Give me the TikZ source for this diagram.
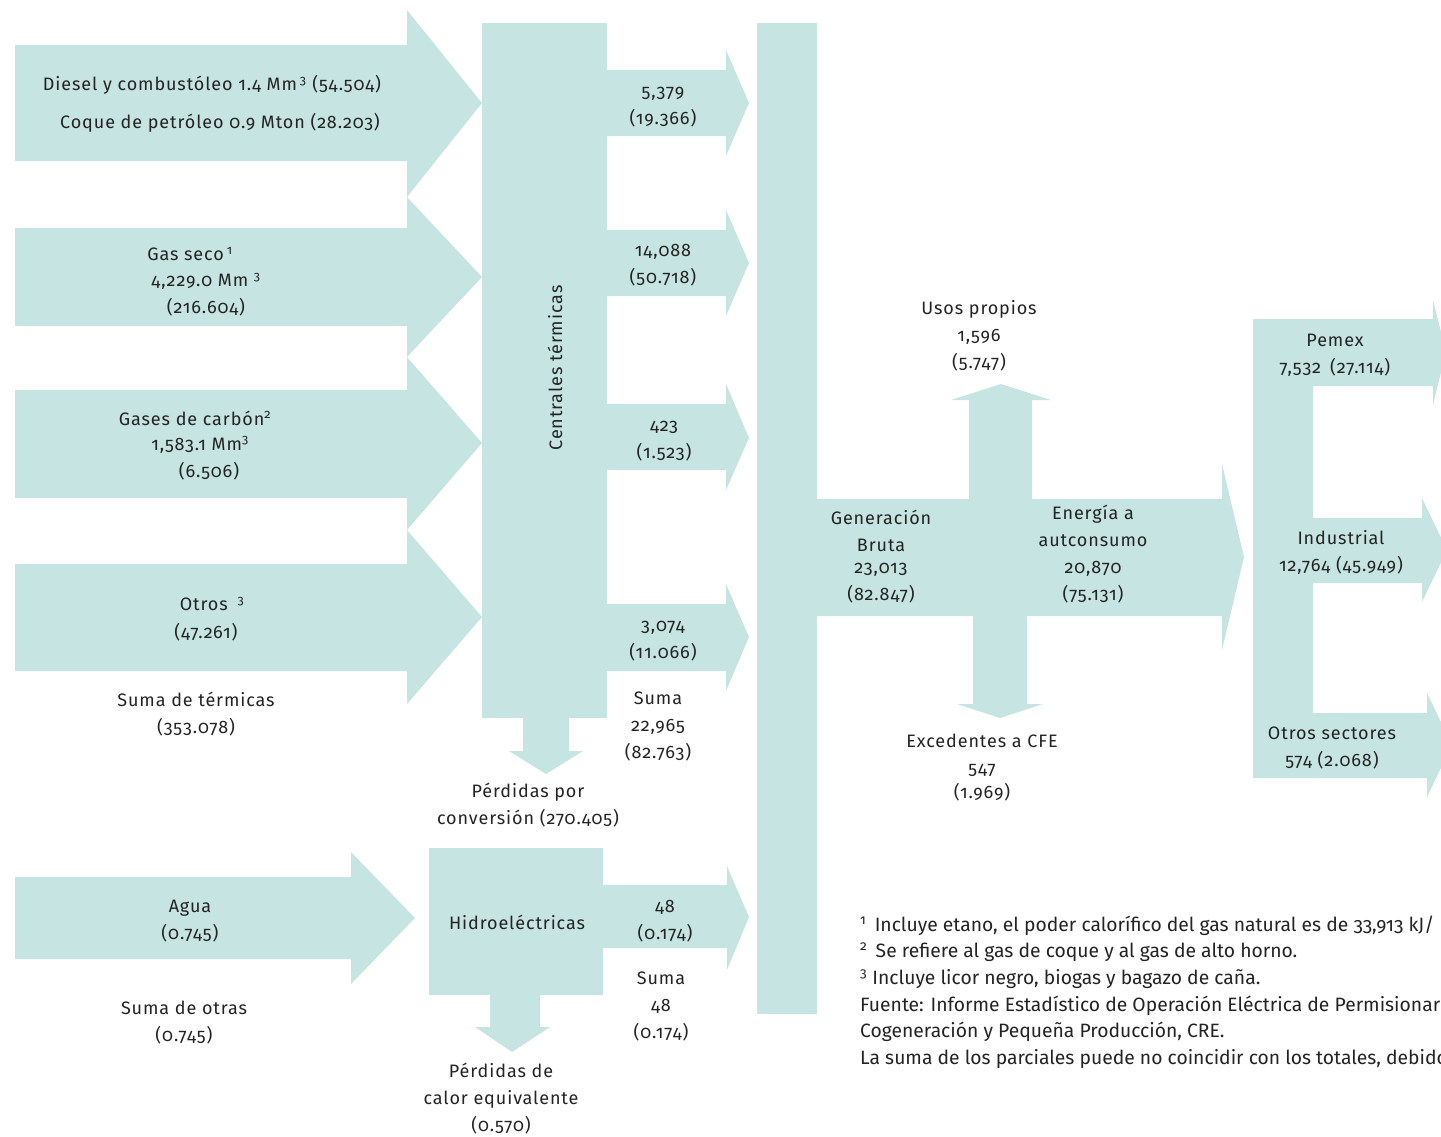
\documentclass[tikz,border=0pt]{standalone}
\usepackage{fontspec}
\setmainfont{Fira Sans}[Numbers=OldStyle]
\newfontfamily\espaciada{Fira Sans}[Numbers=OldStyle, LetterSpace=5]
\definecolor{flujo}{RGB}{198,228,225}
\definecolor{texto}{RGB}{35,35,35}
\tikzset{
  flujo/.style={fill=flujo, draw=none},
  etiqueta/.style={font=\espaciada\fontsize{18}{27}\selectfont, text=texto, align=center, inner sep=0pt},
  nota/.style={font=\fontsize{19.3}{26.5}\selectfont, text=texto, anchor=west, inner sep=0pt}
}

\begin{document}
\begin{tikzpicture}[x=1pt,y=-1pt]
  \useasboundingbox (0,0) rectangle (1441,1136);
  \clip (0,0) rectangle (1441,1136);

  % combustibles hacia centrales termicas
  \fill[flujo] (15,45) -- (407,45) -- (407,10) -- (482,103) -- (407,197) -- (407,161) -- (15,161) -- cycle;
  \fill[flujo] (15,228) -- (407,228) -- (407,197) -- (482,277) -- (407,357) -- (407,326) -- (15,326) -- cycle;
  \fill[flujo] (15,390) -- (407,390) -- (407,357) -- (482,443) -- (407,530) -- (407,498) -- (15,498) -- cycle;
  \fill[flujo] (15,564) -- (407,564) -- (407,530) -- (482,617) -- (407,704) -- (407,671) -- (15,671) -- cycle;

  % centrales termicas y perdidas
  \fill[flujo] (482,23) rectangle (607,718);
  \fill[flujo] (523,718) -- (569,718) -- (569,751) -- (583,751) -- (546,774) -- (509,751) -- (523,751) -- cycle;

  % salidas de centrales termicas
  \foreach \ya/\yb/\yc/\yd/\yt in {50/70/136/156/103, 210/230/296/316/263, 384/404/470/490/438, 584/604/671/691/637}
    \fill[flujo] (607,\yb) -- (726,\yb) -- (726,\ya) -- (749,\yt) -- (726,\yd) -- (726,\yc) -- (607,\yc) -- cycle;

  % barra de generacion
  \fill[flujo] (757,23) rectangle (817,1014);

  % generacion bruta, usos propios, excedentes
  \fill[flujo] (817,499) -- (1222,499) -- (1222,464) -- (1244,557) -- (1222,650) -- (1222,616) -- (817,616) -- cycle;
  \fill[flujo] (969,499) -- (969,400) -- (951,400) -- (1001,384) -- (1051,400) -- (1032,400) -- (1032,499) -- cycle;
  \fill[flujo] (973,616) -- (973,704) -- (957,704) -- (1000,718) -- (1043,704) -- (1027,704) -- (1027,616) -- cycle;

  % sectores de consumo
  \fill[flujo] (1253,319) rectangle (1313,778);
  \fill[flujo] (1313,319) -- (1433,319) -- (1433,300) -- (1446,352) -- (1433,405) -- (1433,386) -- (1313,386) -- cycle;
  \fill[flujo] (1313,518) -- (1422,518) -- (1422,498) -- (1447,550) -- (1422,602) -- (1422,583) -- (1313,583) -- cycle;
  \fill[flujo] (1313,713) -- (1427,713) -- (1427,693) -- (1452,745) -- (1427,797) -- (1427,778) -- (1313,778) -- cycle;

  % hidroelectricas
  \fill[flujo] (15,877) -- (351,877) -- (351,852) -- (415,918) -- (351,984) -- (351,959) -- (15,959) -- cycle;
  \fill[flujo] (429,848) rectangle (603,995);
  \fill[flujo] (603,885) -- (727,885) -- (727,866) -- (749,917) -- (727,970) -- (727,948) -- (603,948) -- cycle;
  \fill[flujo] (490,995) -- (540,995) -- (540,1027) -- (550,1027) -- (512,1052) -- (475,1027) -- (490,1027) -- cycle;

  % textos de entrada
  \node[etiqueta] (diesel) at (212,85) {Diesel y combustóleo 1.4 Mm\,\textsuperscript{3} (54.504)};
  \node[etiqueta] (coque) at (220,123) {Coque de petróleo 0.9 Mton (28.203)};
  \node[etiqueta] (gasseco) at (190,254) {Gas seco\,\textsuperscript{1}};
  \node[etiqueta] (gassecoval) at (206,295) {4,229.0 Mm \textsuperscript{3}\\(216.604)};
  \node[etiqueta] (carbon) at (195,418) {Gases de carbón\textsuperscript{2}};
  \node[etiqueta] (carbonval) at (200,445) {1,583.1 Mm\textsuperscript{3}};
  \node[etiqueta] (carbonpj) at (209,471) {(6.506)};
  \node[etiqueta] (otros) at (212,604) {Otros \textsuperscript{\,\,3}};
  \node[etiqueta] (otrosval) at (206,632) {(47.261)};
  \node[etiqueta] (sumaterm) at (196,714) {Suma de térmicas\\(353.078)};

  \node[etiqueta, rotate=90] (centrales) at (555,368) {Centrales térmicas};
  \node[etiqueta] (sal1) at (663,107) {5,379\\(19.366)};
  \node[etiqueta] (sal2) at (663,265) {14,088\\(50.718)};
  \node[etiqueta] (sal3) at (664,441) {423\\(1.523)};
  \node[etiqueta] (sal4) at (663,641) {3,074\\(11.066)};
  \node[etiqueta] (sumacent) at (658,726) {Suma\\22,965\\(82.763)};
  \node[etiqueta] (perdconv) at (528,805) {Pérdidas por\\conversión (270.405)};

  % generacion y destino
  \node[etiqueta] (usos) at (979,336) {Usos propios\\1,596\\(5.747)};
  \node[etiqueta] (genbruta) at (881,557) {Generación\\Bruta\\[-5pt]23,013\\(82.847)};
  \node[etiqueta] (autocons) at (1093,554) {Energía a\\autconsumo\\20,870\\(75.131)};
  \node[etiqueta] (excedentes) at (982,768) {Excedentes a CFE\\547\\[-3pt](1.969)};
  \node[etiqueta] (pemex) at (1335,355) {Pemex\\7,532\,\,\,(27.114)};
  \node[etiqueta] (industrial) at (1341,552) {Industrial\\12,764 (45.949)};
  \node[etiqueta] (otrossect) at (1332,748) {Otros sectores\\574 (2.068)};

  % otras fuentes
  \node[etiqueta] (agua) at (190,921) {Agua\\(0.745)};
  \node[etiqueta] (sumaotras) at (184,1023) {Suma de otras\\(0.745)};
  \node[etiqueta] (hidro) at (517,922) {Hidroeléctricas};
  \node[etiqueta] (salhidro) at (665,921) {48\\(0.174)};
  \node[etiqueta] (sumahidro) at (661,1006) {Suma\\48\\(0.174)};
  \node[etiqueta] (perdcalor) at (501,1099) {Pérdidas de\\calor equivalente\\(0.570)};

  % notas
  \node[nota] (nota1) at (860,926) {\textsuperscript{1}\, Incluye etano, el poder calorífico del gas natural es de 33,913 kJ/};
  \node[nota] (nota2) at (860,952) {\textsuperscript{2}\, Se refiere al gas de coque y al gas de alto horno.};
  \node[nota] (nota3) at (860,979) {\textsuperscript{3} Incluye licor negro, biogas y bagazo de caña.};
  \node[nota] (nota4) at (860,1006) {Fuente: Informe Estadístico de Operación Eléctrica de Permisionar};
  \node[nota] (nota5) at (860,1032) {Cogeneración y Pequeña Producción, CRE.};
  \node[nota] (nota6) at (860,1059) {La suma de los parciales puede no coincidir con los totales, debido};
\end{tikzpicture}
\end{document}
